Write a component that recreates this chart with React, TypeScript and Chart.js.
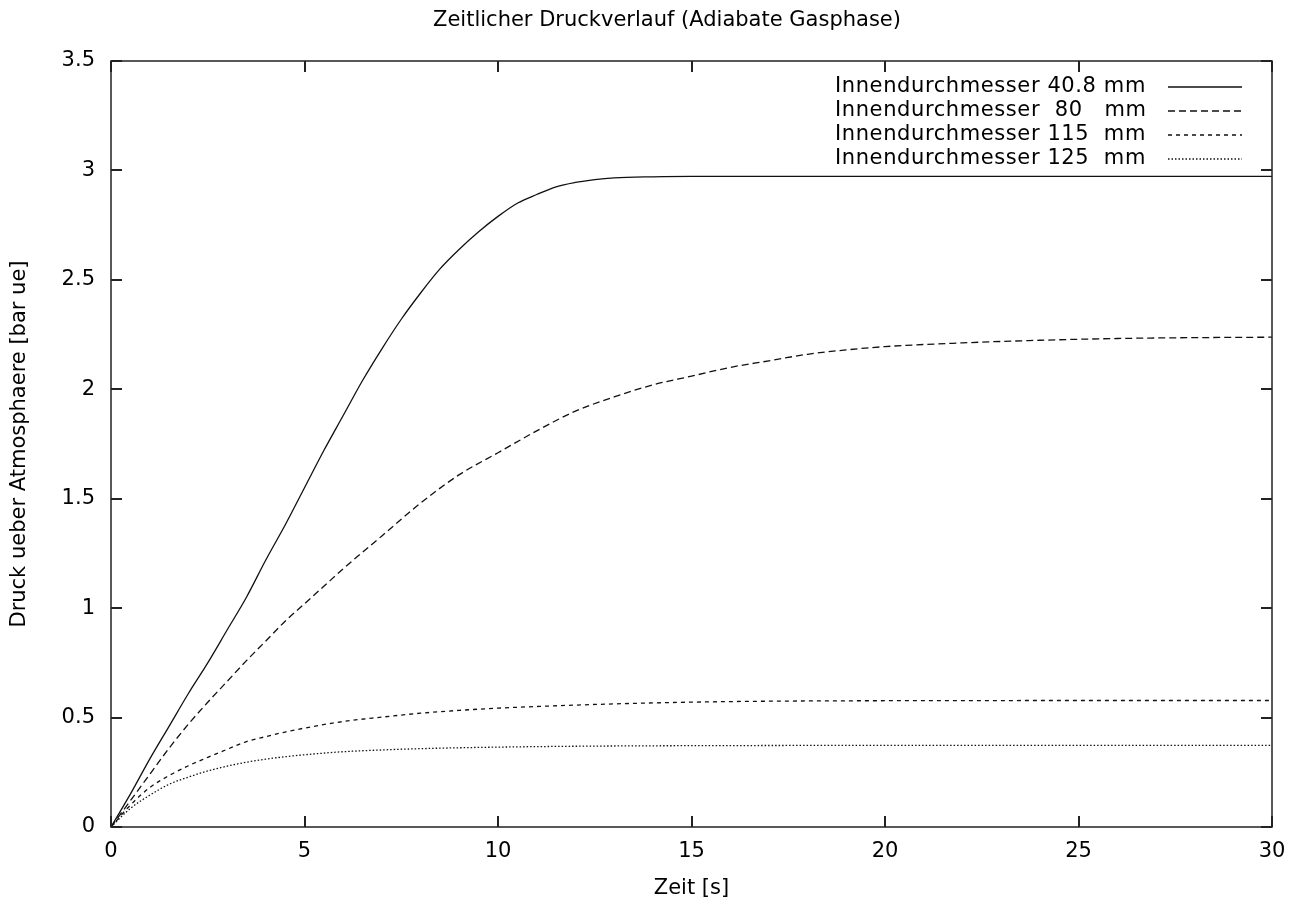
import React, { useEffect, useRef } from "react";
import { Chart, registerables } from "chart.js";

Chart.register(...registerables);

const chartTitle = "Zeitlicher Druckverlauf (Adiabate Gasphase)";
const xTitle = "Zeit [s]";
const yTitle = "Druck ueber Atmosphaere [bar ue]";

const seriesLabels = [
  "Innendurchmesser 40.8 mm",
  "Innendurchmesser  80   mm",
  "Innendurchmesser 115  mm",
  "Innendurchmesser 125  mm",
];

const time40 = [0, 0.5, 1, 1.5, 2, 2.5, 3, 3.5, 4, 4.5, 5, 5.5, 6, 6.5, 7, 7.5, 8, 8.5, 9, 9.5, 10, 10.5, 11, 11.5, 12, 12.5, 13, 14, 15, 20, 25, 30];
const p40 = [0, 0.15, 0.31, 0.46, 0.61, 0.75, 0.9, 1.05, 1.22, 1.38, 1.55, 1.72, 1.88, 2.04, 2.185, 2.32, 2.44, 2.55, 2.64, 2.72, 2.79, 2.85, 2.89, 2.925, 2.945, 2.958, 2.966, 2.971, 2.973, 2.973, 2.973, 2.973];

const time80 = [0, 0.5, 1, 1.5, 2, 2.5, 3, 3.5, 4, 4.5, 5, 5.5, 6, 7, 8, 9, 10, 11, 12, 13, 14, 15, 16, 17, 18, 19, 20, 22, 24, 26, 28, 30];
const p80 = [0, 0.12, 0.24, 0.36, 0.47, 0.57, 0.665, 0.76, 0.85, 0.94, 1.02, 1.1, 1.18, 1.33, 1.48, 1.61, 1.71, 1.81, 1.9, 1.965, 2.02, 2.06, 2.1, 2.13, 2.16, 2.18, 2.195, 2.212, 2.224, 2.232, 2.236, 2.238];

const time115 = [0, 0.5, 1, 1.5, 2, 2.5, 3, 3.5, 4, 4.5, 5, 6, 7, 8, 9, 10, 12, 14, 16, 18, 20, 25, 30];
const p115 = [0, 0.1, 0.18, 0.235, 0.28, 0.318, 0.355, 0.39, 0.413, 0.434, 0.452, 0.482, 0.502, 0.52, 0.533, 0.543, 0.557, 0.567, 0.573, 0.576, 0.577, 0.578, 0.578];

const time125 = [0, 0.5, 1, 1.5, 2, 2.5, 3, 3.5, 4, 4.5, 5, 6, 7, 8, 9, 10, 12, 14, 16, 20, 25, 30];
const p125 = [0, 0.085, 0.145, 0.195, 0.228, 0.256, 0.278, 0.296, 0.31, 0.321, 0.33, 0.344, 0.352, 0.358, 0.362, 0.365, 0.369, 0.371, 0.372, 0.373, 0.373, 0.373];

const FONT = "'DejaVu Sans', 'Liberation Sans', Arial, sans-serif";
const FONT_SIZE = 21;
const INK = "#111";

const toPoints = (t: number[], p: number[]) => t.map((x, i) => ({ x, y: p[i] }));

const framePlugin = {
  id: "gnuplotFrame",
  afterDatasetsDraw(chart: any) {
    const { ctx, chartArea } = chart;
    const { left, right, top, bottom } = chartArea;
    const xs = chart.scales.x;
    const ys = chart.scales.y;
    ctx.save();
    ctx.strokeStyle = "#222";
    ctx.lineWidth = 1.5;
    ctx.strokeRect(left, top, right - left, bottom - top);
    ctx.lineWidth = 2;
    const tl = 11;
    xs.ticks.forEach((tk: any) => {
      const px = Math.round(xs.getPixelForValue(tk.value));
      ctx.beginPath();
      ctx.moveTo(px, bottom);
      ctx.lineTo(px, bottom - tl);
      ctx.moveTo(px, top);
      ctx.lineTo(px, top + tl);
      ctx.stroke();
    });
    ys.ticks.forEach((tk: any) => {
      const py = Math.round(ys.getPixelForValue(tk.value));
      ctx.beginPath();
      ctx.moveTo(left, py);
      ctx.lineTo(left + tl, py);
      ctx.moveTo(right, py);
      ctx.lineTo(right - tl, py);
      ctx.stroke();
    });
    ctx.restore();
  },
  afterDraw(chart: any) {
    const { ctx, chartArea } = chart;
    ctx.save();
    ctx.font = `${FONT_SIZE}px ${FONT}`;
    ctx.fillStyle = "#000";
    ctx.textBaseline = "middle";
    ctx.textAlign = "center";
    ctx.fillText(chartTitle, 667, chartArea.top - 40);
    (ctx as any).letterSpacing = "0.6px";
    ctx.textAlign = "left";
    chart.data.datasets.forEach((ds: any, i: number) => {
      const y = chartArea.top + 26 + i * 24;
      ctx.fillText(ds.label, chartArea.right - 437, y);
      ctx.beginPath();
      ctx.setLineDash(ds.borderDash || []);
      ctx.strokeStyle = INK;
      ctx.lineWidth = 1.3;
      ctx.moveTo(chartArea.right - 104, y);
      ctx.lineTo(chartArea.right - 30, y);
      ctx.stroke();
    });
    ctx.restore();
  },
};

export default function App() {
  const canvasRef = useRef<HTMLCanvasElement | null>(null);

  useEffect(() => {
    if (!canvasRef.current) return;
    const dashes = [[], [7, 4], [4, 4], [1.5, 2]];
    const series = [
      toPoints(time40, p40),
      toPoints(time80, p80),
      toPoints(time115, p115),
      toPoints(time125, p125),
    ];
    const chart = new Chart(canvasRef.current, {
      type: "line",
      data: {
        datasets: series.map((data, i) => ({
          label: seriesLabels[i],
          data,
          borderColor: INK,
          borderWidth: 1.3,
          borderDash: dashes[i],
          pointRadius: 0,
          fill: false,
          cubicInterpolationMode: "monotone" as const,
        })),
      },
      options: {
        animation: false,
        responsive: true,
        maintainAspectRatio: false,
        layout: { padding: { left: 0, right: 31, top: 61, bottom: 0 } },
        plugins: {
          legend: { display: false },
          tooltip: { enabled: false },
          title: { display: false },
        },
        scales: {
          x: {
            type: "linear",
            min: 0,
            max: 30,
            ticks: {
              stepSize: 5,
              color: "#000",
              padding: 12,
              font: { family: FONT, size: FONT_SIZE },
              maxRotation: 0,
              callback: (v: any) => String(v),
            },
            grid: { display: false, drawTicks: false },
            border: { display: false },
            title: {
              display: true,
              text: xTitle,
              color: "#000",
              font: { family: FONT, size: FONT_SIZE, lineHeight: 1.2 },
              padding: { top: 0, bottom: 9 },
            },
            afterFit(scale: any) {
              scale.height = 83;
            },
          },
          y: {
            type: "linear",
            min: 0,
            max: 3.5,
            ticks: {
              stepSize: 0.5,
              color: "#000",
              padding: 16,
              font: { family: FONT, size: FONT_SIZE },
              callback: (v: any) => String(v),
            },
            grid: { display: false, drawTicks: false },
            border: { display: false },
            title: {
              display: true,
              text: yTitle,
              color: "#000",
              font: { family: FONT, size: FONT_SIZE, lineHeight: 1.2 },
              padding: { top: 7, bottom: 0 },
            },
            afterFit(scale: any) {
              scale.width = 111;
            },
          },
        },
      },
      plugins: [framePlugin],
    });
    return () => chart.destroy();
  }, []);

  return (
    <div style={{ position: "absolute", left: 0, top: 0, width: 1303, height: 910, background: "#fff" }}>
      <canvas ref={canvasRef} />
    </div>
  );
}
